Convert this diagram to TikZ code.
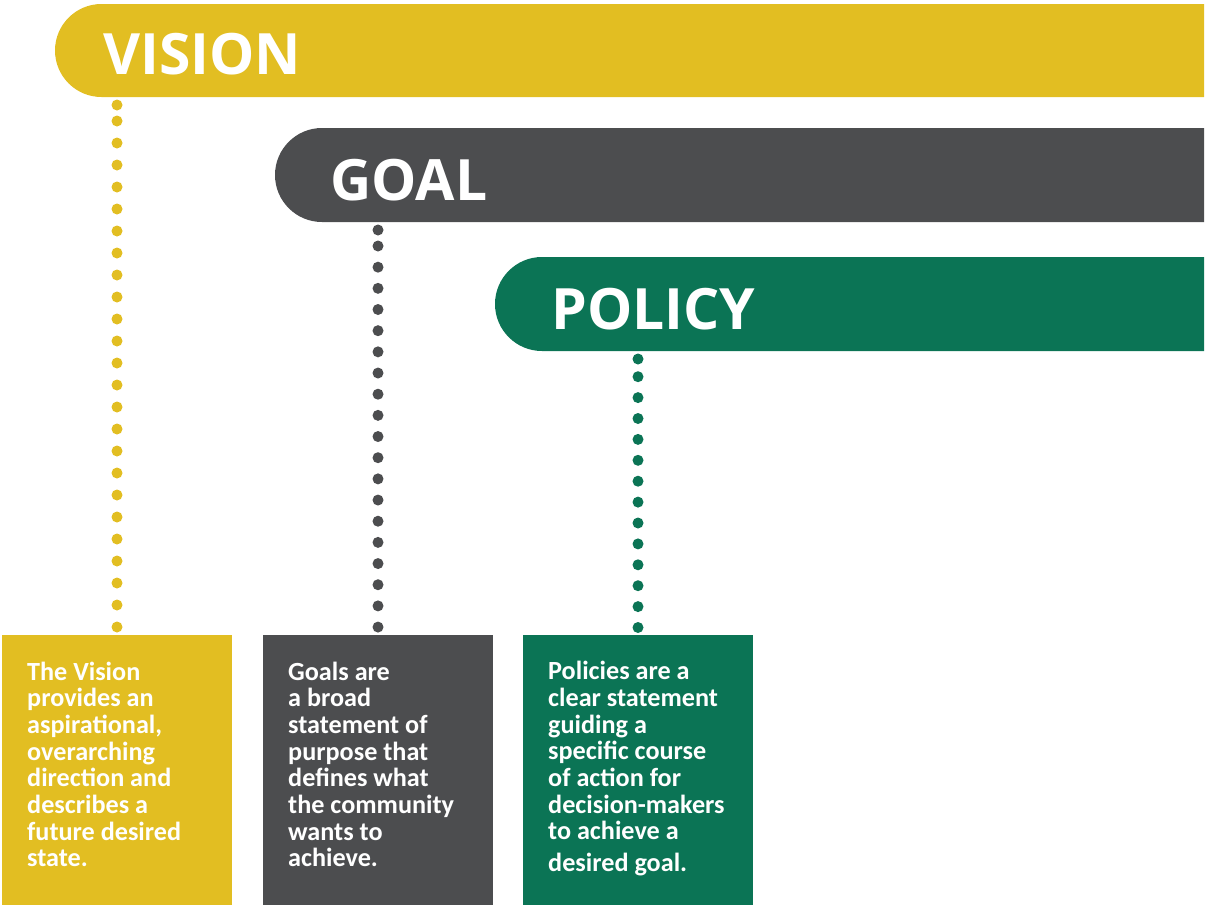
\documentclass[tikz,border=0pt]{standalone}
\usepackage{fontspec}
\setmainfont{Carlito}
\newfontfamily\titlefont{Open Sans}
\definecolor{vis}{RGB}{226,190,34}
\definecolor{gol}{RGB}{76,77,79}
\definecolor{pol}{RGB}{11,116,85}
\tikzset{
  title/.style={anchor=base west, inner sep=0pt, text=white, font=\titlefont\bfseries\fontsize{57}{57}\selectfont},
  body/.style={anchor=base west, inner sep=0pt, text=white, align=left, font=\bfseries\fontsize{26.2}{26.67}\selectfont},
  card/.style={anchor=north west, inner sep=0pt, minimum width=230pt, minimum height=270pt},
  dotline/.style={line width=11pt, line cap=round, dash pattern=on 0pt off #1},
}
\begin{document}
\begin{tikzpicture}[x=1pt,y=-1pt]
\useasboundingbox (0,0) rectangle (1206,905);
% bars
\fill[vis] (1204,4) [rounded corners=46.5pt] -- (55,4) -- (55,97) [sharp corners] -- (1204,97) -- cycle;
\fill[gol] (1204,128) [rounded corners=47pt] -- (275,128) -- (275,222) [sharp corners] -- (1204,222) -- cycle;
\fill[pol] (1204,257) [rounded corners=47pt] -- (495,257) -- (495,351) [sharp corners] -- (1204,351) -- cycle;
\node[title] (vtitle) at (103,74) {VISION};
\node[title] (gtitle) at (330,200) {GOAL};
\node[title] (ptitle) at (551,329) {POLICY};
% cards
\node[card, fill=vis] (vbox) at (2,635) {};
\node[card, fill=gol] (gbox) at (263,635) {};
\node[card, fill=pol] (pbox) at (523,635) {};
% text anchored at the baseline of its last line
\node[body] (vtext) at (27,866.7) {The Vision\\provides an\\aspirational,\\overarching\\direction and\\describes a\\future desired\\state.};
\node[body] (gtext) at (288,866.7) {Goals are\\a broad\\statement of\\purpose that\\defines what\\the community\\wants to\\achieve.};
\node[body] (ptext) at (548,871) {Policies are a\\clear statement\\guiding a\\specific course\\of action for\\decision-makers\\to achieve a\\[4.5pt]desired goal.};
% dotted connectors
\coordinate (v0) at (117,105);
\coordinate (v1) at (117,121);
\coordinate (v2) at (117,627.6);
\coordinate (g0) at (378,230);
\coordinate (g1) at (378,246);
\coordinate (g2) at (378,627.6);
\coordinate (p0) at (638,359);
\coordinate (p1) at (638,376.7);
\coordinate (p2) at (638,628.2);
\fill[vis] (v0) circle[radius=5.5pt];
\draw[vis, dotline=22pt] (v1) -- (v2);
\fill[gol] (g0) circle[radius=5.5pt];
\draw[gol, dotline=21.17pt] (g1) -- (g2);
\fill[pol] (p0) circle[radius=5.5pt];
\draw[pol, dotline=20.9pt] (p1) -- (p2);
\end{tikzpicture}
\end{document}
